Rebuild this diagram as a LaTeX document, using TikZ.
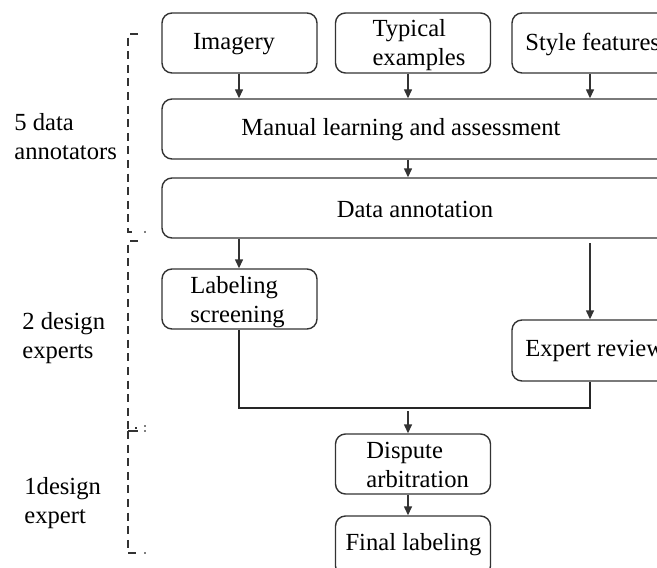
\documentclass[tikz,border=0pt]{standalone}
\usepackage{fontspec}
\setmainfont{Liberation Serif}
\usetikzlibrary{arrows.meta,calc}
\begin{document}
\begin{tikzpicture}[x=0.5pt,y=-0.5pt,
  font=\fontsize{12.3}{14.5}\selectfont,
  box/.style={draw=black!80,line width=0.7pt,rounded corners=5pt,inner sep=0pt},
  small/.style={box,minimum width=77.5pt,minimum height=30pt},
  txt/.style={inner sep=0pt,align=left},
  arr/.style={draw=black!80,line width=0.7pt,-{Triangle[length=4.5pt,width=4pt]}},
  link/.style={draw=black!85,line width=1.3pt},
  brk/.style={draw=black!80,line width=1.3pt,dash pattern=on 4pt off 2.8pt},
  tick/.style={draw=black!80,line width=1.3pt},
  dot/.style={draw=black!50,line width=0.6pt}]
\useasboundingbox (0,0) rectangle (657,567);
\clip (0,0) rectangle (657,567);
% top row
\node[small] (img) at (239.5,43) {};
\node[txt] (imgt) at (234,44) {Imagery};
\node[small] (typ) at (413,43) {};
\node[txt] (typt) at (419,45.5) {Typical\\examples};
\node[small,minimum width=80pt] (sty) at (592,43) {};
\node[txt,anchor=west] (styt) at (525,44) {Style features};
% wide boxes
\node[box,minimum width=270pt,minimum height=30pt] (man) at (432,129) {};
\node[txt] (mant) at (401,130) {Manual learning and assessment};
\node[box,minimum width=270pt,minimum height=30pt] (dat) at (432,208) {};
\node[txt] (datt) at (415,209) {Data annotation};
% second level
\node[small] (lab) at (239.5,299) {};
\node[txt,anchor=west] (labt) at (190,302.5) {Labeling\\screening};
\node[box,minimum width=80pt,minimum height=30.5pt] (exp) at (592,350.5) {};
\node[txt,anchor=west] (expt) at (525,351) {Expert review};
% bottom
\node[small] (dis) at (413,464) {};
\node[txt,anchor=west] (dist) at (366,465) {Dispute\\arbitration};
\node[small] (fin) at (413,546) {};
\node[txt] (fint) at (413.5,545) {Final labeling};
% helper coordinates
\coordinate (cA) at (239,0);
\coordinate (cB) at (408,0);
\coordinate (cC) at (590,0);
\coordinate (j) at (408,408);
\coordinate (ds) at (590,243);
% arrows
\draw[arr] (img.south -| cA) -- (man.north -| cA);
\draw[arr] (typ.south -| cB) -- (man.north -| cB);
\draw[arr] (sty.south -| cC) -- (man.north -| cC);
\draw[arr] (man.south -| cB) -- (dat.north -| cB);
\draw[arr] (dat.south -| cA) -- (lab.north -| cA);
\draw[arr] (ds) -- (exp.north -| cC);
\draw[link] (lab.south -| cA) -- (j -| cA) -- (j -| cC) -- (exp.south -| cC);
\draw[arr] ([yshift=-1.5pt]j) -- (dis.north -| cB);
\draw[arr] (dis.south -| cB) -- (fin.north -| cB);
% brackets
\draw[brk] (138,34) -- (128,34) -- (128,232) -- (137,232);
\draw[brk] (138,241) -- (128,241) -- (128,428) -- (137,428);
\draw[tick] (128,431) -- (138,431);
\draw[brk] (128,431) -- (128,553) -- (137,553);
\draw[dot] (145,230.5) -- (145,233);
\draw[dot] (145,425) -- (145,427);
\draw[dot] (145,430) -- (145,432);
\draw[dot] (145,552) -- (145,554);
% group labels
\node[txt,anchor=west] (g1) at (14,137) {5 data\\annotators};
\node[txt,anchor=west] (g2) at (22,338) {2 design\\experts};
\node[txt,anchor=west] (g3) at (24,503) {1design\\expert};
\end{tikzpicture}
\end{document}
